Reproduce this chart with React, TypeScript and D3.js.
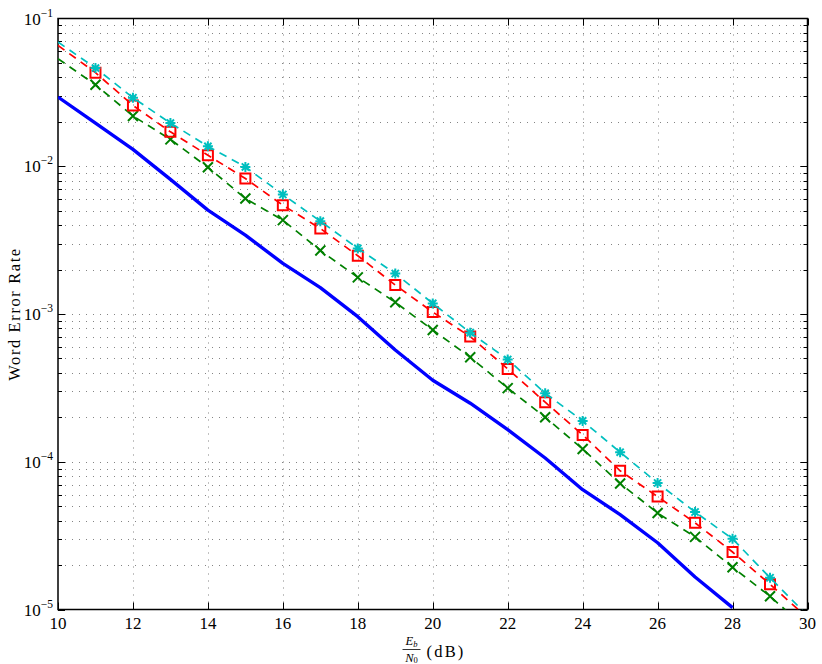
import React, { useEffect, useRef } from 'react'
import * as d3 from 'd3'

const snr = d3.range(10, 31)

// simulated curves, one value per dB from 10 to 30 (markers only on 11..29)
const berStar = [0.0693, 0.0462, 0.0291, 0.0196, 0.01365, 0.00989, 0.00644, 0.00425, 0.00278, 0.00188, 0.00118,
  0.000748, 0.000492, 0.000291, 0.000189, 0.000116, 7.18e-5, 4.57e-5, 3.01e-5, 1.64e-5, 9.1e-6]
const berSquare = [0.0658, 0.043, 0.0258, 0.0171, 0.01187, 0.00826, 0.00545, 0.00379, 0.00248, 0.00157, 0.00103,
  0.000703, 0.000425, 0.000253, 0.000152, 8.69e-5, 5.81e-5, 3.86e-5, 2.45e-5, 1.48e-5, 8.8e-6]
const berCross = [0.0534, 0.0356, 0.0219, 0.0152, 0.00984, 0.00605, 0.00432, 0.00269, 0.00177, 0.0012, 0.000779,
  0.00051, 0.000315, 0.0002, 0.000122, 7.13e-5, 4.5e-5, 3.1e-5, 1.93e-5, 1.23e-5, 7.3e-6]
// solid bound, 10..28 dB
const berBound = [0.0294, 0.0196, 0.013, 0.00816, 0.00505, 0.00342, 0.0022, 0.00151, 0.000959, 0.000571, 0.000356,
  0.000249, 0.000165, 0.000106, 6.47e-5, 4.39e-5, 2.83e-5, 1.66e-5, 1.03e-5]

const xTicks = [10, 12, 14, 16, 18, 20, 22, 24, 26, 28, 30]
const yDecades = [-1, -2, -3, -4, -5]

const App = () => {
  const ref = useRef<SVGSVGElement>(null)

  useEffect(() => {
    const width = 822, height = 664
    const m = { left: 58, right: 14.5, top: 18.5, bottom: 54.5 }
    const svg = d3.select(ref.current)
    svg.selectAll('*').remove()

    const x = d3.scaleLinear().domain([10, 30]).range([m.left, width - m.right])
    const y = d3.scaleLog().domain([1e-5, 1e-1]).range([height - m.bottom, m.top])
    const x0 = m.left, x1 = width - m.right, y0 = height - m.bottom, y1 = m.top

    svg.append('rect').attr('width', width).attr('height', height).attr('fill', '#fff')

    svg.append('clipPath').attr('id', 'clip')
      .append('rect').attr('x', x0).attr('y', y1).attr('width', x1 - x0).attr('height', y0 - y1)

    // grid
    const grid = svg.append('g').attr('stroke', '#333').attr('stroke-width', 1)
      .attr('stroke-dasharray', '1,6').attr('opacity', 0.6)
    xTicks.slice(1, -1).forEach(t => {
      grid.append('line').attr('x1', Math.round(x(t)) + 0.5).attr('x2', Math.round(x(t)) + 0.5)
        .attr('y1', y0).attr('y2', y1)
    })
    const minors: number[] = []
    for (let e = -5; e < -1; e++) {
      for (let k = 1; k < 10; k++) minors.push(k * Math.pow(10, e))
    }
    minors.filter(v => v > 1e-5).forEach(v => {
      grid.append('line').attr('x1', x0).attr('x2', x1)
        .attr('y1', Math.round(y(v)) + 0.5).attr('y2', Math.round(y(v)) + 0.5)
    })

    // ticks
    const ticks = svg.append('g').attr('stroke', '#000').attr('stroke-width', 1)
    xTicks.forEach(t => {
      const px = Math.round(x(t)) + 0.5
      ticks.append('line').attr('x1', px).attr('x2', px).attr('y1', y0).attr('y2', y0 - 7)
      ticks.append('line').attr('x1', px).attr('x2', px).attr('y1', y1).attr('y2', y1 + 7)
    })
    minors.forEach(v => {
      const py = Math.round(y(v)) + 0.5
      const len = Math.abs(Math.log10(v) - Math.round(Math.log10(v))) < 1e-9 ? 7 : 4
      ticks.append('line').attr('x1', x0).attr('x2', x0 + len).attr('y1', py).attr('y2', py)
      ticks.append('line').attr('x1', x1).attr('x2', x1 - len).attr('y1', py).attr('y2', py)
    })

    // box
    svg.append('rect').attr('x', x0).attr('y', y1).attr('width', x1 - x0).attr('height', y0 - y1)
      .attr('fill', 'none').attr('stroke', '#000').attr('stroke-width', 1.5)

    const plot = svg.append('g').attr('clip-path', 'url(#clip)')
    const line = d3.line<[number, number]>().x(d => x(d[0])).y(d => y(d[1]))

    plot.append('path').datum(berBound.map((v, i) => [snr[i], v] as [number, number]))
      .attr('d', line).attr('fill', 'none').attr('stroke', '#0000ff').attr('stroke-width', 3.4)
      .attr('stroke-linejoin', 'round')

    const series = [
      { data: berCross, color: '#008000', marker: 'x' },
      { data: berSquare, color: '#ff0000', marker: 's' },
      { data: berStar, color: '#00bfbf', marker: '*' }
    ]
    series.forEach(s => {
      const pts = s.data.map((v, i) => [snr[i], v] as [number, number])
      plot.append('path').datum(pts).attr('d', line).attr('fill', 'none')
        .attr('stroke', s.color).attr('stroke-width', 1.7).attr('stroke-dasharray', '8,6')
      const r = 5
      let d = ''
      if (s.marker === 'x') d = `M${-r},${-r}L${r},${r}M${-r},${r}L${r},${-r}`
      else if (s.marker === 's') d = `M${-r},${-r}H${r}V${r}H${-r}Z`
      else {
        const q = r * 0.72
        d = `M0,${-r}V${r}M${-r},0H${r}M${-q},${-q}L${q},${q}M${-q},${q}L${q},${-q}`
      }
      plot.selectAll(null).data(pts.slice(1, -1)).enter().append('path')
        .attr('transform', p => `translate(${x(p[0])},${y(p[1])})`)
        .attr('d', d).attr('fill', 'none').attr('stroke', s.color).attr('stroke-width', 2)
    })

    // tick labels
    const font = 'Liberation Serif, Times New Roman, serif'
    svg.append('g').selectAll('text').data(xTicks).enter().append('text')
      .attr('x', d => x(d)).attr('y', y0 + 19).attr('text-anchor', 'middle')
      .attr('font-family', font).attr('font-size', 17).text(d => d)

    yDecades.forEach(e => {
      const t = svg.append('text').attr('x', x0 - 5).attr('y', y(Math.pow(10, e)) + 6)
        .attr('text-anchor', 'end').attr('font-family', font).attr('font-size', 17)
      t.append('tspan').text('10')
      t.append('tspan').attr('dy', -8).attr('font-size', 11.5).text(`\u2212${-e}`)
    })

    // axis labels
    svg.append('text').attr('transform', `translate(20,${(y0 + y1) / 2}) rotate(-90)`)
      .attr('text-anchor', 'middle').attr('font-family', font).attr('font-size', 16.5)
      .attr('letter-spacing', 1.6).text('Word Error Rate')

    const xl = svg.append('g').attr('transform', `translate(411.5,0)`)
      .attr('font-family', font)
    xl.append('text').attr('x', 0).attr('y', 645).attr('text-anchor', 'middle')
      .attr('font-size', 12.5).attr('font-style', 'italic')
      .text('E').append('tspan').attr('font-size', 8.5).attr('dy', 2).text('b')
    xl.append('line').attr('x1', -9).attr('x2', 9).attr('y1', 649.5).attr('y2', 649.5)
      .attr('stroke', '#000').attr('stroke-width', 0.8)
    xl.append('text').attr('x', 0).attr('y', 662).attr('text-anchor', 'middle')
      .attr('font-size', 12.5).attr('font-style', 'italic')
      .text('N').append('tspan').attr('font-size', 8.5).attr('font-style', 'normal').attr('dy', 1).text('0')
    xl.append('text').attr('x', 15).attr('y', 657).attr('font-size', 16.5)
      .attr('letter-spacing', 2.2).text('(dB)')
  }, [])

  return (
    <div style={{ position: 'absolute', left: 0, top: 0 }}>
      <svg ref={ref} width={822} height={664} style={{ display: 'block' }} />
    </div>
  )
}

export default App
